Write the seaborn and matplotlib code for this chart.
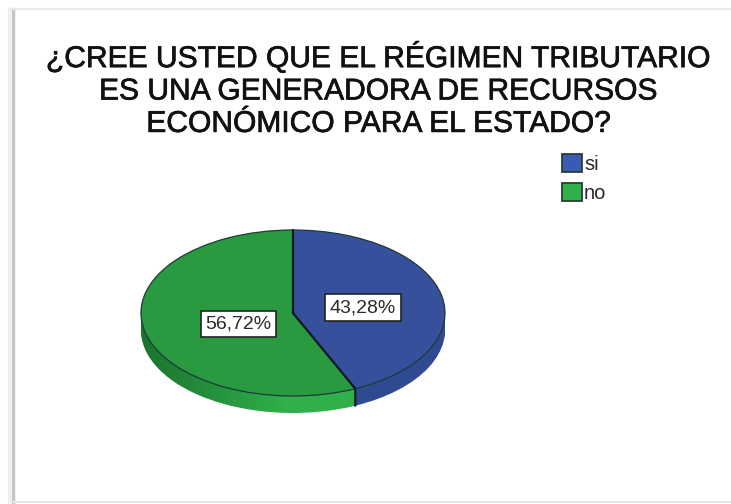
import math
import numpy as np
import matplotlib
matplotlib.use("Agg")
import matplotlib.pyplot as plt
from matplotlib.patches import Rectangle, PathPatch
from matplotlib.path import Path
from matplotlib.lines import Line2D
from matplotlib.colors import LinearSegmentedColormap
import matplotlib.patheffects as pe
import seaborn as sns

categories = ["si", "no"]
percentages = [43.28, 56.72]
title_lines = [
    "¿CREE USTED QUE EL RÉGIMEN TRIBUTARIO",
    "ES UNA GENERADORA DE RECURSOS",
    "ECONÓMICO PARA EL ESTADO?",
]

face_colors = sns.color_palette(["#36509b", "#2a9a41"])
side_colors = sns.color_palette(["#2f4a90", "#2fb04a"])
legend_colors = sns.color_palette(["#3a5bb5", "#2fb14f"])
rim_outline = "#1c3a3a"
divider = "#0d1a26"

sns.set_theme(style="white")
plt.rcParams["font.family"] = ["Liberation Sans", "DejaVu Sans"]

W, H = 731, 504
fig = plt.figure(figsize=(W / 100, H / 100), dpi=100, facecolor="white")

# Sheet edges with a soft grey shadow
for x0, y0, x1, y1, col, lw in [
    (13, 9, 13, 504, "#c4c4c4", 2.5),
    (10, 9, 10, 504, "#efefef", 3.0),
    (13, 9, 731, 9, "#e8e8e8", 1.5),
    (13, 502, 731, 502, "#e6e6e6", 1.5),
]:
    fig.add_artist(Line2D([x0 / W, x1 / W], [1 - y0 / H, 1 - y1 / H], color=col, lw=lw))

# Tilted pie: the unit circle is squashed by the axes box into an ellipse
rx, ry, depth = 152, 83, 17
left, top = 141, 230
ax = fig.add_axes([left / W, 1 - (top + 2 * ry + depth) / H, 2 * rx / W, (2 * ry + depth) / H])
d = depth / ry

# Rim: the same pie repeated downwards, one pixel per layer
for i in range(depth, 0, -1):
    ax.pie(percentages, colors=side_colors, startangle=90, counterclock=False,
           center=(0, -i / ry), wedgeprops=dict(linewidth=0, clip_on=False))

# Slice boundary angle, measured from the data
end_angle = math.radians(90 - percentages[0] * 3.6)
ex, ey = math.cos(end_angle), math.sin(end_angle)

# Rim of the second slice darkens towards the left
theta = np.linspace(end_angle, -math.pi, 120)
rim_xy = np.vstack([
    np.column_stack([np.cos(theta), np.sin(theta)]),
    np.column_stack([np.cos(theta[::-1]), np.sin(theta[::-1]) - d]),
])
rim_clip = PathPatch(Path(np.vstack([rim_xy, rim_xy[0]]), closed=True), transform=ax.transData,
                     facecolor="none", edgecolor="none")
ax.add_patch(rim_clip)
shade = LinearSegmentedColormap.from_list("shade", [(0, 0.12, 0.03, 0.42), (0, 0.12, 0.03, 0.0)])
img = ax.imshow(np.linspace(0, 1, 256).reshape(1, -1), cmap=shade, extent=(-1, -0.05, -1 - d, 1),
                aspect="auto", zorder=1.5)
img.set_clip_path(rim_clip)

wedges, _, pct_texts = ax.pie(
    percentages, colors=face_colors, startangle=90, counterclock=False,
    autopct=lambda p: f"{p:.2f}%".replace(".", ","), pctdistance=0.47,
    wedgeprops=dict(edgecolor=rim_outline, linewidth=0.9, clip_on=False, zorder=2),
    textprops=dict(fontsize=14, color="#2a2a2a", zorder=5),
)
ax.set_aspect("auto")
ax.set_xlim(-1, 1)
ax.set_ylim(-1 - d, 1)

for txt, (sx, sy) in zip(pct_texts, [(1.0, 0.67), (0.78, 1.35)]):
    px, py = txt.get_position()
    txt.set_position((px * sx, py * sy))
    txt.set_bbox(dict(boxstyle="square,pad=0.24", facecolor="white", edgecolor="#222222", linewidth=1.2))

# Darker slice boundaries across the face and down the rim
ax.plot([0, 0], [1, 0], color=divider, lw=1.6, zorder=3, clip_on=False)
ax.plot([0, ex, ex], [0, ey, ey - d], color=divider, lw=1.6, zorder=3, clip_on=False)

title = fig.text(378.5 / W, 1 - 90 / H, "\n".join(title_lines), ha="center", va="center",
                 fontsize=21.6, color="#111111", linespacing=1.2)
title.set_path_effects([pe.withStroke(linewidth=0.5, foreground="#111111")])

handles = [Rectangle((0, 0), 1, 1, facecolor=c, edgecolor="#2a4030", linewidth=1.3) for c in legend_colors]
fig.legend(handles, categories, loc="upper left", bbox_to_anchor=(558 / W, 1 - 150 / H),
           frameon=False, fontsize=14.5, handlelength=1.0, handleheight=1.0,
           handletextpad=0.1, labelspacing=0.45, borderpad=0.2, borderaxespad=0,
           labelcolor="#2a2a2a")

fig.savefig("out.png", dpi=100)
